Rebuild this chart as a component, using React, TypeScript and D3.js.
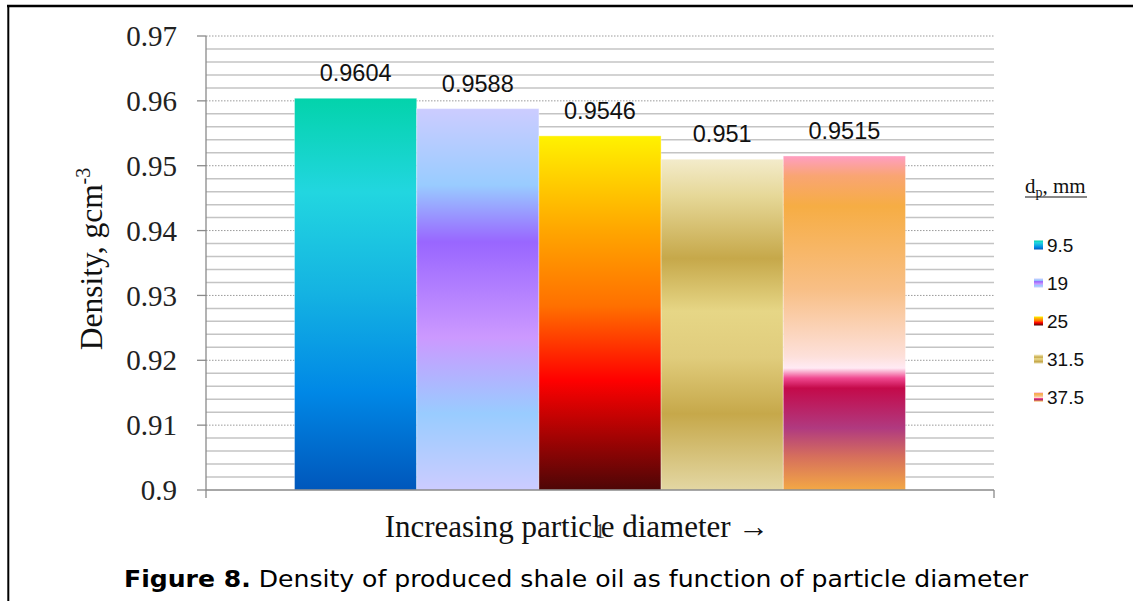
import React from 'react';
import * as d3 from 'd3';

const categories = ['1'];
const seriesNames = ['9.5', '19', '25', '31.5', '37.5'];
const densities = [0.9604, 0.9588, 0.9546, 0.951, 0.9515];
const valueLabels = ['0.9604', '0.9588', '0.9546', '0.951', '0.9515'];
const yMajorTicks = [0.9, 0.91, 0.92, 0.93, 0.94, 0.95, 0.96, 0.97];
const yTickLabels = ['0.9', '0.91', '0.92', '0.93', '0.94', '0.95', '0.96', '0.97'];
const yMinorStep = 0.002;

const gradients: [number, string][][] = [
  [[0, '#03D3AB'], [0.24, '#22D6E0'], [0.5, '#14B2E2'], [0.75, '#0088E6'], [1, '#0057BB']],
  [[0, '#CCCCFF'], [0.2, '#99CCFF'], [0.35, '#9966FF'], [0.6, '#CC99FF'], [0.8, '#99CCFF'], [1, '#CCCCFF']],
  [[0, '#FFF200'], [0.27, '#FFA500'], [0.48, '#FF7000'], [0.69, '#FF0000'], [1, '#4D0606']],
  [[0, '#F3EBCB'], [0.11, '#E6D898'], [0.3, '#C6A84A'], [0.46, '#E6D686'], [0.6, '#E0CC7C'], [0.77, '#C6A84A'], [1, '#E3D7A3']],
  [[0, '#FF9EC2'], [0.06, '#F9A572'], [0.15, '#F6AD44'], [0.4, '#F8BF86'], [0.6, '#FDE0DA'], [0.635, '#FFEAF4'], [0.665, '#F04890'], [0.695, '#C40A4A'], [0.815, '#B03A80'], [0.9, '#D66F5C'], [1, '#F3A845']],
];

const W = 1133;
const H = 601;
const plot = { left: 206, right: 994, top: 36, bottom: 490 };

export default function App() {
  const y = d3.scaleLinear().domain([0.9, 0.97]).range([plot.bottom, plot.top]);
  const x0 = d3.scaleBand<string>().domain(categories).range([plot.left, plot.right]).paddingInner(0).paddingOuter(0.1449);
  const x1 = d3.scaleBand<string>().domain(seriesNames).range([0, x0.bandwidth()]).padding(0);

  const minorTicks = d3.range(0.9 + yMinorStep, 0.97 - 1e-9, yMinorStep).filter(
    (v) => !yMajorTicks.some((m) => Math.abs(m - v) < 1e-9)
  );

  const serif = '"Liberation Serif", "Times New Roman", serif';
  const sans = '"Liberation Sans", Arial, sans-serif';

  return (
    <svg width={W} height={H} style={{ position: 'absolute', left: 0, top: 0, display: 'block', background: '#fff' }}>
      <defs>
        {gradients.map((stops, i) => (
          <linearGradient key={i} id={`g${i}`} x1="0" y1="0" x2="0" y2="1">
            {stops.map(([o, c], j) => (
              <stop key={j} offset={o} stopColor={c} />
            ))}
          </linearGradient>
        ))}
      </defs>

      {/* frame lines */}
      <line x1={7} x2={W} y1={6} y2={6} stroke="#000" strokeWidth={2.5} />
      <line x1={8.3} x2={8.3} y1={5} y2={H} stroke="#000" strokeWidth={2} />

      {/* minor gridlines */}
      {minorTicks.map((v, i) => (
        <line key={'mn' + i} x1={plot.left} x2={plot.right} y1={y(v)} y2={y(v)} stroke="#c4c4c4" strokeWidth={1.5} />
      ))}
      {/* major gridlines */}
      {yMajorTicks.slice(1).map((v, i) => (
        <line key={'mj' + i} x1={plot.left} x2={plot.right} y1={y(v)} y2={y(v)} stroke="#9a9a9a" strokeWidth={1} strokeDasharray="1.5,1.5" />
      ))}

      {/* bars */}
      {categories.map((c) =>
        seriesNames.map((s, i) => {
          const bx = (x0(c) ?? 0) + (x1(s) ?? 0);
          const top = y(densities[i]);
          return (
            <g key={c + s}>
              <rect x={bx} y={top} width={x1.bandwidth()} height={y(0.9) - top} fill={`url(#g${i})`} stroke="rgba(255,255,255,0.35)" strokeWidth={1} />
              <text
                x={bx + x1.bandwidth() / 2}
                y={top - 17}
                textAnchor="middle"
                fontFamily={sans}
                fontSize={23.5}
                fill="#111"
              >
                {valueLabels[i]}
              </text>
            </g>
          );
        })
      )}

      {/* axes */}
      <line x1={plot.left} x2={plot.left} y1={plot.top} y2={plot.bottom + 8} stroke="#8a8a8a" strokeWidth={1.3} />
      <line x1={plot.left} x2={plot.right} y1={plot.bottom} y2={plot.bottom} stroke="#8a8a8a" strokeWidth={1.3} />
      <line x1={plot.right} x2={plot.right} y1={plot.bottom} y2={plot.bottom + 8} stroke="#8a8a8a" strokeWidth={1.3} />
      {yMajorTicks.map((v, i) => (
        <g key={'t' + i}>
          <line x1={plot.left - 9} x2={plot.left} y1={y(v)} y2={y(v)} stroke="#8a8a8a" strokeWidth={1.3} />
          <text x={177} y={y(v)} dy="0.35em" textAnchor="end" fontFamily={serif} fontSize={29} fill="#222">
            {yTickLabels[i]}
          </text>
        </g>
      ))}

      {/* category label (partly hidden under title, as in the original) */}
      {categories.map((c) => (
        <text key={c} x={(x0(c) ?? 0) + x0.bandwidth() / 2} y={538} textAnchor="middle" fontFamily={serif} fontSize={20} fill="#444">
          {c}
        </text>
      ))}

      {/* axis titles */}
      <text x={577} y={537} textAnchor="middle" fontFamily={serif} fontSize={31} fill="#111">
        Increasing particle diameter →
      </text>
      <text transform="translate(102,259) rotate(-90)" textAnchor="middle" fontFamily={serif} fontSize={31.5} fill="#111">
        Density, gcm<tspan dy={-12} fontSize={20}>-3</tspan>
      </text>

      {/* legend */}
      <text x={1025} y={193} fontFamily={serif} fontSize={21} fill="#111">
        d<tspan dy={4} fontSize={14}>p</tspan>
        <tspan dy={-4}>, mm</tspan>
      </text>
      <line x1={1025} x2={1087} y1={197} y2={197} stroke="#111" strokeWidth={1} />
      {seriesNames.map((s, i) => {
        const ly = 245 + i * 38;
        return (
          <g key={'lg' + s}>
            <rect x={1034} y={ly - 4.5} width={9} height={9} fill={`url(#g${i})`} />
            <text x={1047} y={ly} dy="0.36em" fontFamily={sans} fontSize={19} fill="#111">
              {s}
            </text>
          </g>
        );
      })}

      {/* caption */}
      <text x={124} y={587} fontFamily='"DejaVu Sans", Verdana, sans-serif' fontSize={23} fill="#000" textLength={904} lengthAdjust="spacingAndGlyphs">
        <tspan fontWeight="bold">Figure 8.</tspan> Density of produced shale oil as function of particle diameter
      </text>
    </svg>
  );
}
